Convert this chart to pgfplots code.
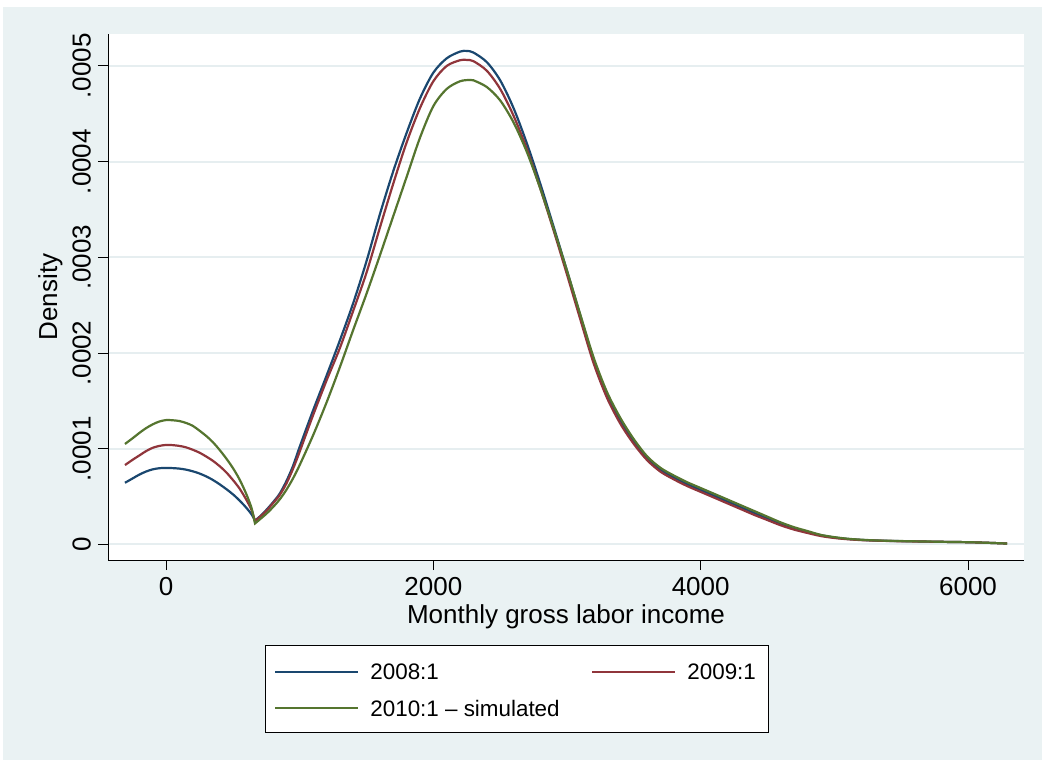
\documentclass[border=0pt]{standalone}
\usepackage{fontspec}
\setmainfont{Liberation Sans}
\usepackage{pgfplots}
\usepackage{pgfplotstable}
\pgfplotsset{compat=1.18}
\definecolor{sbg}{RGB}{234,242,243}
\definecolor{sgrid}{RGB}{230,238,240}
\definecolor{snavy}{RGB}{26,71,111}
\definecolor{smaroon}{RGB}{144,53,59}
\definecolor{sgreen}{RGB}{85,117,47}
% density values in units of 0.0001
\pgfplotstableread{
x y
-307 0.645
-250 0.69
-200 0.73
-150 0.762
-100 0.785
-50 0.797
0 0.800
50 0.798
100 0.793
150 0.782
200 0.765
250 0.742
300 0.712
350 0.675
400 0.630
450 0.580
500 0.525
550 0.460
600 0.385
640 0.315
660 0.265
666 0.250
672 0.257
700 0.290
750 0.360
800 0.440
850 0.530
900 0.660
950 0.820
1000 1.02
1100 1.40
1200 1.76
1300 2.13
1400 2.52
1500 2.96
1600 3.45
1700 3.90
1800 4.30
1900 4.66
2000 4.93
2100 5.08
2200 5.15
2250 5.157
2300 5.14
2400 5.04
2500 4.85
2600 4.56
2700 4.19
2800 3.77
2900 3.32
3000 2.86
3100 2.39
3200 1.93
3300 1.56
3400 1.29
3500 1.07
3600 0.90
3700 0.78
3800 0.70
3900 0.63
4000 0.57
4100 0.51
4200 0.45
4300 0.39
4400 0.33
4500 0.27
4600 0.215
4700 0.17
4800 0.13
4900 0.097
5000 0.073
5100 0.058
5200 0.048
5300 0.042
5400 0.038
5500 0.035
5600 0.033
5700 0.030
5800 0.028
5900 0.026
6000 0.024
6100 0.020
6200 0.015
6292 0.010
}\dataA
\pgfplotstableread{
x y
-307 0.83
-250 0.885
-200 0.93
-150 0.975
-100 1.01
-50 1.03
0 1.04
50 1.038
100 1.03
150 1.015
200 0.99
250 0.96
300 0.92
350 0.875
400 0.82
450 0.755
500 0.675
550 0.585
600 0.47
640 0.36
660 0.272
666 0.245
672 0.252
700 0.285
750 0.35
800 0.43
850 0.515
900 0.635
950 0.79
1000 0.97
1100 1.35
1200 1.71
1300 2.05
1400 2.44
1500 2.84
1600 3.31
1700 3.77
1800 4.20
1900 4.56
2000 4.84
2100 5.00
2200 5.06
2250 5.063
2300 5.05
2400 4.95
2500 4.76
2600 4.48
2700 4.13
2800 3.72
2900 3.28
3000 2.82
3100 2.35
3200 1.89
3300 1.53
3400 1.26
3500 1.05
3600 0.88
3700 0.76
3800 0.68
3900 0.61
4000 0.55
4100 0.49
4200 0.43
4300 0.37
4400 0.31
4500 0.255
4600 0.20
4700 0.155
4800 0.12
4900 0.088
5000 0.068
5100 0.055
5200 0.046
5300 0.041
5400 0.037
5500 0.034
5600 0.032
5700 0.030
5800 0.028
5900 0.026
6000 0.024
6100 0.020
6200 0.015
6292 0.010
}\dataB
\pgfplotstableread{
x y
-307 1.05
-250 1.11
-200 1.165
-150 1.215
-100 1.255
-50 1.285
0 1.30
50 1.298
100 1.29
150 1.27
200 1.24
250 1.19
300 1.135
350 1.07
400 0.99
450 0.90
500 0.80
550 0.68
600 0.53
640 0.38
660 0.257
666 0.22
672 0.227
700 0.26
750 0.32
800 0.39
850 0.47
900 0.57
950 0.69
1000 0.83
1100 1.14
1200 1.48
1300 1.85
1400 2.24
1500 2.62
1600 3.02
1700 3.43
1800 3.84
1900 4.25
2000 4.58
2100 4.76
2200 4.84
2274 4.854
2300 4.85
2400 4.78
2500 4.64
2600 4.41
2700 4.10
2800 3.72
2900 3.30
3000 2.86
3100 2.40
3200 1.95
3300 1.59
3400 1.32
3500 1.10
3600 0.92
3700 0.80
3800 0.72
3900 0.65
4000 0.59
4100 0.53
4200 0.47
4300 0.41
4400 0.35
4500 0.29
4600 0.23
4700 0.18
4800 0.14
4900 0.10
5000 0.077
5100 0.060
5200 0.050
5300 0.043
5400 0.039
5500 0.036
5600 0.033
5700 0.031
5800 0.028
5900 0.026
6000 0.024
6100 0.020
6200 0.015
6292 0.010
}\dataC
\begin{document}
\begin{tikzpicture}
\path[use as bounding box] (0,0) rectangle (521pt,380pt);
\fill[sbg] (1.5pt,0) rectangle (521pt,376.5pt);
\begin{axis}[
  at={(54pt,100pt)}, anchor=south west,
  width=458pt, height=263pt, scale only axis,
  xmin=-434, xmax=6419, ymin=-0.162, ymax=5.334,
  axis lines*=left,
  axis line style={black, line width=0.5pt},
  tick align=outside, major tick length=5pt,
  tick style={black, line width=0.5pt},
  xtick={0,2000,4000,6000}, xticklabels={0,2000,4000,6000},
  ytick={0,1,2,3,4,5}, yticklabels={0,.0001,.0002,.0003,.0004,.0005},
  yticklabel style={rotate=90, anchor=south},
  ymajorgrids, grid style={sgrid, line width=1pt},
  axis background/.style={fill=white},
  ticklabel style={font=\fontsize{13}{13}\selectfont},
  label style={font=\fontsize{13}{13}\selectfont},
  xlabel={Monthly gross labor income},
  ylabel={Density},
  xlabel style={at={(axis description cs:0.5,-0.108)}, anchor=center},
  ylabel style={at={(axis description cs:-0.063,0.5)}, anchor=center},
]
\addplot[snavy, line width=1.1pt, smooth] table[x=x,y=y] {\dataA};
\addplot[smaroon, line width=1.1pt, smooth] table[x=x,y=y] {\dataB};
\addplot[sgreen, line width=1.1pt, smooth] table[x=x,y=y] {\dataC};
\end{axis}
% legend box (Stata style, below the plot)
\draw[black, line width=0.5pt, fill=white] (132.5pt,14pt) rectangle (384pt,57.5pt);
\begin{scope}[every node/.style={inner sep=0pt, anchor=west, font=\fontsize{11.2}{11.2}\selectfont}]
\draw[snavy, line width=0.8pt] (137.5pt,44pt) -- (179pt,44pt);
\node at (185pt,44pt) {2008:1};
\draw[smaroon, line width=0.8pt] (296pt,44pt) -- (337.5pt,44pt);
\node at (343.5pt,44pt) {2009:1};
\draw[sgreen, line width=0.8pt] (137.5pt,26pt) -- (179pt,26pt);
\node at (185pt,26pt) {2010:1 -- simulated};
\end{scope}
\end{tikzpicture}
\end{document}
